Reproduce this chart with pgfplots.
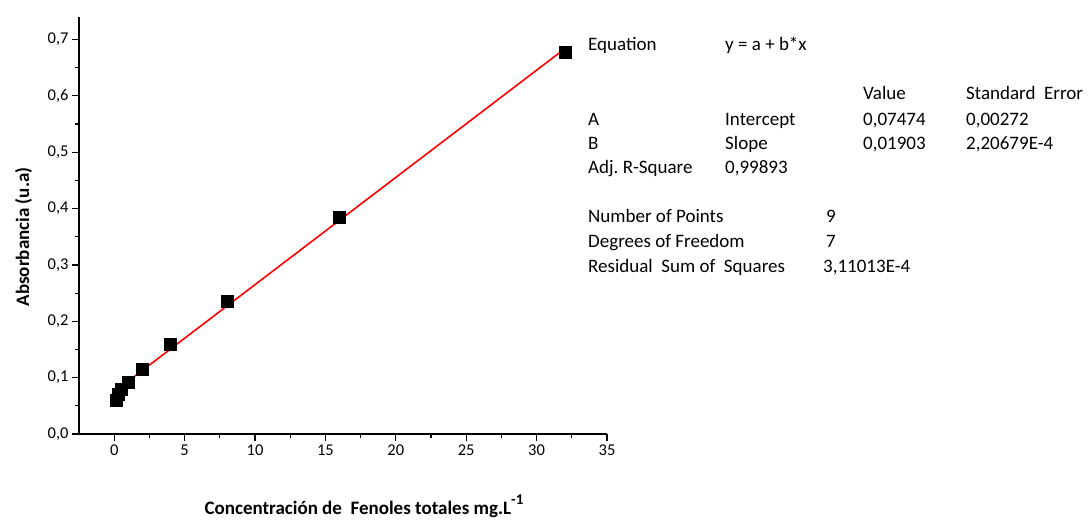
\documentclass[border=0pt]{standalone}
\usepackage{fontspec}
\setmainfont{Carlito}
\usepackage{pgfplots}
\pgfplotsset{compat=1.18}
\begin{document}
\begin{tikzpicture}[x=1bp,y=1bp]
\useasboundingbox (0,0) rectangle (1088,520);
\begin{axis}[
  at={(114.2bp,86bp)}, anchor=origin,
  width=528bp, height=417bp, scale only axis,
  xmin=-2.5, xmax=35, ymin=0, ymax=0.74,
  axis x line*=bottom, axis y line*=left,
  axis line style={-, line width=1.3bp},
  every tick/.style={black, line width=1.2bp},
  tick align=outside,
  major tick length=7bp, minor tick length=4bp,
  xtick={0,5,...,35}, minor x tick num=1,
  ytick={0,0.1,0.2,0.3,0.4,0.5,0.6,0.7}, minor y tick num=1,
  tick label style={font=\fontsize{16.5bp}{16.5bp}\selectfont},
  /pgf/number format/assume math mode=true,
  yticklabel style={/pgf/number format/.cd, fixed, fixed zerofill, precision=1, use comma},
  xticklabel style={/pgf/number format/.cd, fixed, precision=0},
  clip=false,
]
\addplot[red, line width=1.6bp] coordinates {(0.125,0.0771) (32,0.6837)};
\addplot[only marks, mark=square*, mark size=6bp, black] coordinates {
  (0.125,0.060) (0.25,0.071) (0.5,0.080) (1,0.092) (2,0.115)
  (4,0.160) (8,0.235) (16,0.385) (32,0.678)};
\end{axis}
\tikzset{t/.style={anchor=base west, inner sep=0pt, font=\fontsize{19bp}{23bp}\selectfont}}
\node[t] at (588,469) {Equation};
\node[t] at (725,469) {y = a + b*x};
\node[t] at (863,420) {Value};
\node[t] at (966,420) {Standard~ Error};
\node[t] at (588,394) {A};
\node[t] at (725,394) {Intercept};
\node[t] at (863,394) {0,07474};
\node[t] at (966,394) {0,00272};
\node[t] at (588,370) {B};
\node[t] at (725,370) {Slope};
\node[t] at (863,370) {0,01903};
\node[t] at (966,370) {2,20679E-4};
\node[t] at (588,346) {Adj.\ R-Square};
\node[t] at (725,346) {0,99893};
\node[t] at (588,297) {Number of Points};
\node[t] at (826,297) {9};
\node[t] at (588,272) {Degrees of Freedom};
\node[t] at (826,272) {7};
\node[t] at (588,247) {Residual~ Sum of~ Squares};
\node[t] at (823,247) {3,11013E-4};
\node[rotate=90, anchor=base, inner sep=0pt, font=\bfseries\fontsize{19bp}{23bp}\selectfont] at (29,283) {Absorbancia (u.a)};
\node[anchor=base, inner sep=0pt, font=\bfseries\fontsize{19bp}{23bp}\selectfont] at (364,5) {Concentración de~ Fenoles totales mg.L\raisebox{0.55em}{\fontsize{15bp}{15bp}\selectfont -1}};
\end{tikzpicture}
\end{document}
